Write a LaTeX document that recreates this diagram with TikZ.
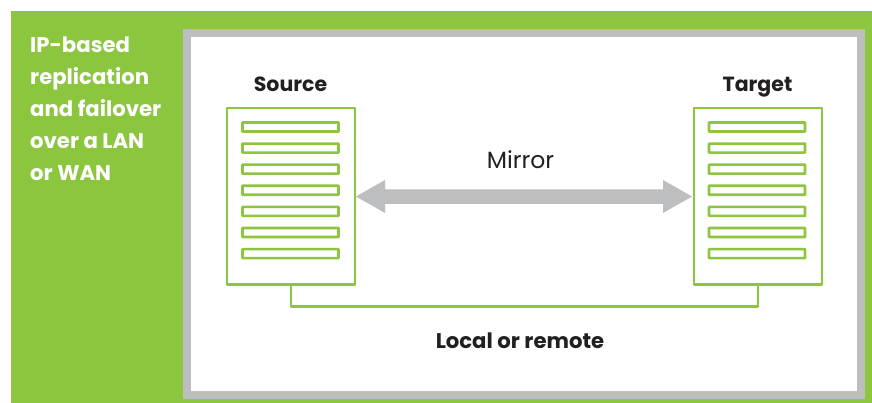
\documentclass[tikz,border=0pt]{standalone}
\usepackage{fontspec}
\setmainfont{Poppins}
\usetikzlibrary{arrows.meta}
\definecolor{hpgreen}{HTML}{8CC63F}
\definecolor{hpgray}{HTML}{BCBEC0}
\definecolor{inkblack}{HTML}{231F20}
\tikzset{
  x=1pt,y=-1pt,
  serverbox/.style={draw=hpgreen,line width=2.4pt,fill=white,minimum width=128pt,minimum height=176.5pt,inner sep=0pt,outer sep=0pt,line join=round},
  slotbar/.style={draw=hpgreen,line width=2.6pt,fill=white,minimum width=96pt,minimum height=9pt,inner sep=0pt,rounded corners=0.5pt},
  linkline/.style={draw=hpgreen,line width=2.4pt},
  mirrorarrow/.style={draw=none,fill=hpgray},
  headtext/.style={font=\fontsize{20.5}{32}\selectfont\bfseries,text=inkblack,inner sep=0pt,anchor=base},
  sidetext/.style={font=\fontsize{21.2}{32}\selectfont\bfseries,text=white,inner sep=0pt,anchor=base west,align=left},
}
\begin{document}
\begin{tikzpicture}
\useasboundingbox (0,0) rectangle (872,403);
\fill[white] (0,0) rectangle (872,403);
\fill[hpgreen] (11,11) rectangle (872,403);
\draw[hpgray,line width=8pt,fill=white] (187,33) rectangle (861,395);
\node[sidetext] (side) at (30,181) {IP-based\\replication\\and failover\\over a LAN\\or WAN};
\node[headtext] (srclabel) at (290.5,92) {Source};
\node[headtext] (tgtlabel) at (757.5,92) {Target};
\node[serverbox] (src) at (291,196.25) {};
\node[serverbox] (tgt) at (758,196.25) {};
\foreach \i/\y in {1/127,2/148.1,3/169.2,4/190.3,5/211.4,6/232.5,7/253.6}{
  \node[slotbar] (s\i) at (290.5,\y) {};
  \node[slotbar] (t\i) at (757,\y) {};
}
\coordinate (corner1) at (src.south |- 0,306.3);
\coordinate (corner2) at (tgt.south |- 0,306.3);
\draw[linkline,line join=round] (src.south) -- (corner1) -- (corner2) -- (tgt.south);
\fill[mirrorarrow] (356,196.5) -- (385,180) -- (385,189.5) -- (663,189.5) -- (663,180) -- (692,196.5) -- (663,213) -- (663,204) -- (385,204) -- (385,213) -- cycle;
\node[font=\fontsize{23.5}{26}\selectfont,text=inkblack,inner sep=0pt,anchor=base] (mirror) at (520.5,168.5) {Mirror};
\node[headtext,font=\fontsize{21.2}{32}\selectfont\bfseries] (localremote) at (520,348) {Local or remote};
\end{tikzpicture}
\end{document}
